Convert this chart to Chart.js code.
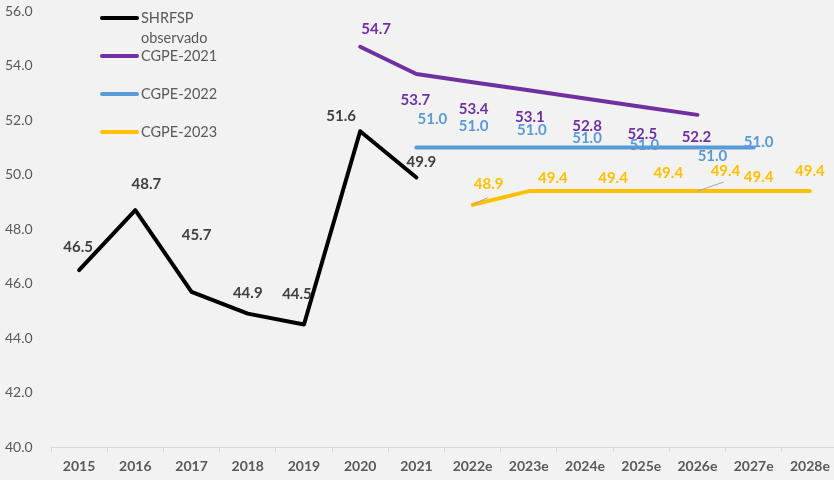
<!DOCTYPE html>
<html>
<head>
<meta charset="utf-8">
<script src="https://cdn.jsdelivr.net/npm/chart.js@4.4.1/dist/chart.umd.min.js"></script>
<style>
  body { margin: 0; background: #f2f2f2; overflow: hidden; }
  #wrap { width: 840px; height: 480px; }
</style>
</head>
<body>
<div id="wrap"><canvas id="chart"></canvas></div>
<script>
// categories and series
const years = ['2015', '2016', '2017', '2018', '2019', '2020', '2021',
  '2022e', '2023e', '2024e', '2025e', '2026e', '2027e', '2028e'];
const observado = [46.5, 48.7, 45.7, 44.9, 44.5, 51.6, 49.9, null, null, null, null, null, null, null];
const cgpe2021 = [null, null, null, null, null, 54.7, 53.7, 53.4, 53.1, 52.8, 52.5, 52.2, null, null];
const cgpe2022 = [null, null, null, null, null, null, 51.0, 51.0, 51.0, 51.0, 51.0, 51.0, 51.0, null];
const cgpe2023 = [null, null, null, null, null, null, null, 48.9, 49.4, 49.4, 49.4, 49.4, 49.4, 49.4];
const yMin = 40, yMax = 56, yStep = 2;

// label placement (pixel offsets from each point, as in the original)
const labelStyle = [
  { color: '#404040', off: { 0: [-1, -23], 1: [11, -26], 2: [5, -57], 3: [0, -20], 4: [-7, -30], 5: [-19, -15], 6: [5, -15] } },
  { color: '#7030a0', off: { 5: [16, -18], 6: [-1, 26], 7: [1, 27], 8: [1, 27], 9: [2, 28], 10: [1, 27], 11: [-1, 22] } },
  { color: '#5b9bd5', off: { 6: [16, -28], 7: [1, -21], 8: [3, -17], 9: [2, -9], 10: [3, -2], 11: [15, 9], 12: [5, -5] } },
  { color: '#ffc000', off: { 7: [16, -21], 8: [24, -13], 9: [28, -13], 10: [27, -18], 11: [28, -20], 12: [5, -14], 13: [0, -20] },
    leader: { 7: [15, -7], 11: [26, -9] } }
];

const valueLabels = {
  id: 'valueLabels',
  afterDatasetsDraw(chart) {
    const ctx = chart.ctx;
    ctx.save();
    ctx.font = 'bold 15px Lato';
    ctx.textAlign = 'center';
    ctx.textBaseline = 'middle';
    chart.data.datasets.forEach((ds, di) => {
      const st = labelStyle[di];
      const meta = chart.getDatasetMeta(di);
      ds.data.forEach((v, i) => {
        if (v === null) return;
        const p = meta.data[i];
        const o = st.off[i] || [0, -15];
        if (st.leader && st.leader[i]) {
          ctx.strokeStyle = '#a6a6a6';
          ctx.lineWidth = 1;
          ctx.beginPath();
          ctx.moveTo(p.x, p.y);
          ctx.lineTo(p.x + st.leader[i][0], p.y + st.leader[i][1]);
          ctx.stroke();
        }
        ctx.fillStyle = st.color;
        ctx.fillText(v.toFixed(1), p.x + o[0], p.y + o[1]);
      });
    });
    ctx.restore();
  }
};

// legend drawn in the upper-left corner like the source
const cornerLegend = {
  id: 'cornerLegend',
  afterDraw(chart) {
    const ctx = chart.ctx;
    ctx.save();
    ctx.font = '14.5px Lato';
    ctx.textBaseline = 'middle';
    ctx.fillStyle = '#595959';
    const rows = [18, 56, 94, 132];
    chart.data.datasets.forEach((ds, i) => {
      const y = rows[i];
      ctx.strokeStyle = ds.borderColor;
      ctx.lineWidth = 4;
      ctx.lineCap = 'round';
      ctx.beginPath();
      ctx.moveTo(102, y);
      ctx.lineTo(137, y);
      ctx.stroke();
      const parts = ds.label.split('\n');
      parts.forEach((t, k) => ctx.fillText(t, 141, y + k * 20));
    });
    ctx.restore();
  }
};

const lineSet = (label, data, color) => ({
  label, data, borderColor: color, backgroundColor: color,
  borderWidth: 4, pointRadius: 0, tension: 0, spanGaps: false,
  borderCapStyle: 'round', borderJoinStyle: 'round'
});

new Chart(document.getElementById('chart'), {
  type: 'line',
  data: {
    labels: years,
    datasets: [
      lineSet('SHRFSP\nobservado', observado, '#000000'),
      lineSet('CGPE-2021', cgpe2021, '#7030a0'),
      lineSet('CGPE-2022', cgpe2022, '#5b9bd5'),
      lineSet('CGPE-2023', cgpe2023, '#ffc000')
    ]
  },
  options: {
    responsive: true,
    maintainAspectRatio: false,
    animation: false,
    devicePixelRatio: 1,
    layout: { padding: { top: 11, left: 5, right: 2, bottom: 0 } },
    plugins: { legend: { display: false }, tooltip: { enabled: false } },
    scales: {
      x: {
        offset: true,
        grid: { offset: true, drawOnChartArea: false, color: '#d9d9d9', tickLength: 5 },
        border: { color: '#d9d9d9' },
        ticks: { color: '#595959', font: { family: 'Lato', size: 14, weight: 'bold' }, padding: 6, maxRotation: 0, autoSkip: false },
        afterFit: s => { s.height = 33; }
      },
      y: {
        min: yMin, max: yMax,
        grid: { display: false },
        border: { display: false },
        ticks: {
          stepSize: yStep, color: '#595959', crossAlign: 'far',
          font: { family: 'Lato', size: 14 },
          callback: v => v.toFixed(1)
        },
        afterFit: s => { s.width = 46; }
      }
    }
  },
  plugins: [valueLabels, cornerLegend]
});
</script>
</body>
</html>
